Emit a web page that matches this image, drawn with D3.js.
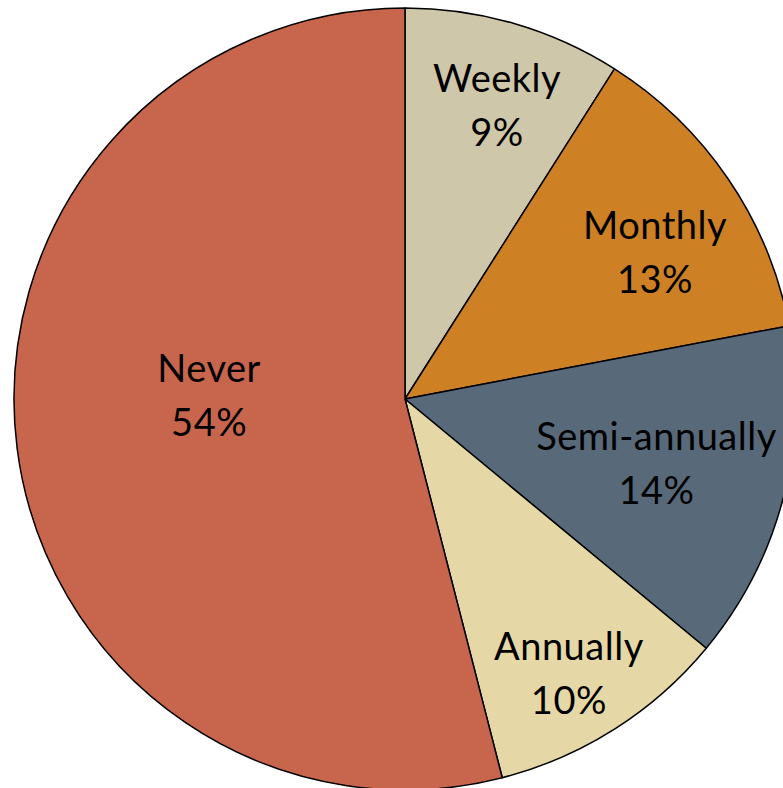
<!DOCTYPE html>
<html>
<head>
<meta charset="utf-8">
<script src="https://cdn.jsdelivr.net/npm/d3@7"></script>
<style>
  html, body { margin: 0; padding: 0; background: #ffffff; }
  svg { display: block; }
</style>
</head>
<body>
<svg id="chart" width="783" height="788"></svg>
<script>
// Survey frequency breakdown (percent of respondents)
const categories = ["Weekly", "Monthly", "Semi-annually", "Annually", "Never"];
const values = [9, 13, 14, 10, 54];
const colors = ["#cfc7a9", "#cd8024", "#586979", "#e5d8a6", "#c8654d"];

// Label placement inside each slice: radius as a fraction of the pie radius,
// and a rotation (degrees) away from the slice's middle angle.
const labelLayout = {
  "Weekly":        { r: 0.783, da: 1.3 },
  "Monthly":       { r: 0.739, da: 4.1 },
  "Semi-annually": { r: 0.665, da: 0.3 },
  "Annually":      { r: 0.821, da: 1.7 },
  "Never":         { r: 0.501, da: 7.8 }
};

const svg = d3.select("#chart");
const cx = 405, cy = 399, R = 391;

const data = categories.map((c, i) => ({ category: c, value: values[i], color: colors[i] }));

const pie = d3.pie().value(d => d.value).sort(null);
const arc = d3.arc().innerRadius(0).outerRadius(R);

const g = svg.append("g").attr("transform", `translate(${cx},${cy})`);
const arcs = pie(data);

g.selectAll("path.slice")
  .data(arcs)
  .join("path")
  .attr("class", "slice")
  .attr("d", arc)
  .attr("fill", d => d.data.color)
  .attr("stroke", "#000")
  .attr("stroke-width", 1.5)
  .attr("stroke-linejoin", "round");

const fontSize = 38;
const lineGap = 54;

const labels = g.selectAll("text.lbl")
  .data(arcs)
  .join("text")
  .attr("class", "lbl")
  .attr("text-anchor", "middle")
  .attr("font-family", "Lato, 'Open Sans', sans-serif")
  .attr("font-size", fontSize)
  .attr("letter-spacing", 0.5)
  .attr("fill", "#000")
  .attr("transform", d => {
    const L = labelLayout[d.data.category];
    const mid = (d.startAngle + d.endAngle) / 2 + L.da * Math.PI / 180;
    const r = L.r * R;
    const x = r * Math.sin(mid);
    const y = -r * Math.cos(mid);
    return `translate(${x},${y})`;
  });

labels.append("tspan")
  .attr("x", 0)
  .attr("y", -lineGap / 2 + 12)
  .text(d => d.data.category);

labels.append("tspan")
  .attr("x", 0)
  .attr("y", lineGap / 2 + 12)
  .text(d => d.data.value + "%");
</script>
</body>
</html>
